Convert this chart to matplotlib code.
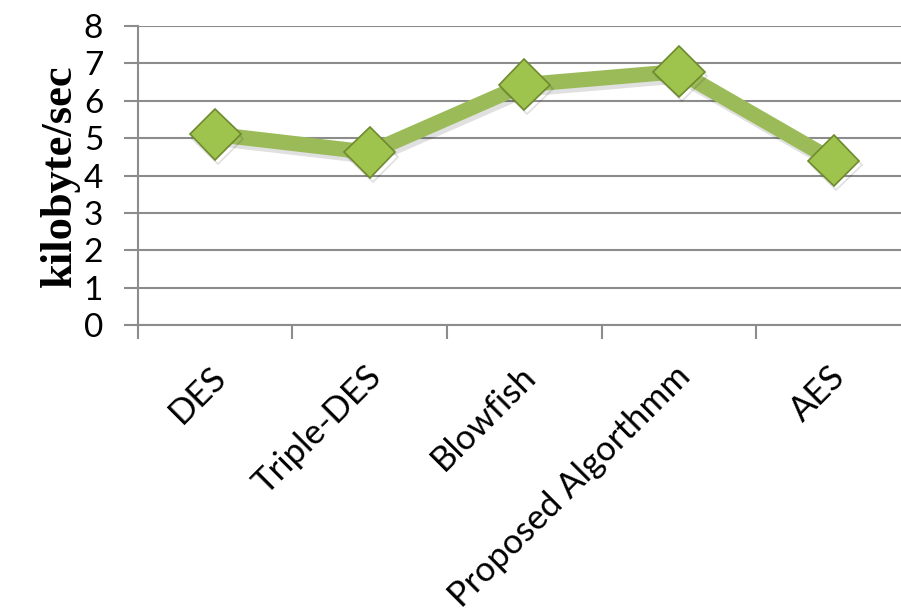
import matplotlib
matplotlib.use("Agg")
import matplotlib.pyplot as plt
import matplotlib.patheffects as pe
import matplotlib.transforms as mtransforms

# データ
algorithms = ["DES", "Triple-DES", "Blowfish", "Proposed Algorthmm", "AES"]
throughput = [5.1, 4.62, 6.43, 6.78, 4.4]  # kilobyte/sec
yticks = [0, 1, 2, 3, 4, 5, 6, 7, 8]

fig = plt.figure(figsize=(9.01, 6.16), dpi=100)
ax = fig.add_axes([0.153, 0.472, 0.858, 0.486])

x = list(range(len(algorithms)))
ax.plot(x, throughput, color="#9bbb59", linewidth=11, solid_joinstyle="miter",
        marker="D", markersize=26, markerfacecolor="#9fc44e",
        markeredgecolor="#6d8a2f", markeredgewidth=1.2, zorder=3,
        path_effects=[pe.SimpleLineShadow(offset=(2, -3), alpha=0.12), pe.Normal()])

ax.set_xlim(-0.5, len(algorithms) - 0.5)
ax.set_ylim(0, 8)
ax.set_yticks(yticks)
ax.grid(axis="y", color="#8c8c8c", linewidth=1.5)
ax.set_axisbelow(True)

for s in ["top", "right"]:
    ax.spines[s].set_visible(False)
for s in ["left", "bottom"]:
    ax.spines[s].set_color("#8c8c8c")
    ax.spines[s].set_linewidth(1.5)

# x軸: 区切りの目盛り線とラベル
ax.set_xticks([i - 0.5 for i in range(len(algorithms) + 1)], minor=True)
ax.set_xticks(x)
ax.set_xticklabels(algorithms, rotation=45, ha="right", va="top",
                   rotation_mode="anchor", fontsize=25, family="Lato")
ax.tick_params(axis="x", which="major", length=0, pad=25)
ax.tick_params(axis="x", which="minor", length=10, width=1.5, color="#8c8c8c")
ax.tick_params(axis="y", length=10, width=1.5, color="#8c8c8c", labelsize=24, pad=15)
for lbl in ax.get_yticklabels():
    lbl.set_family("Lato")
for lbl in ax.get_xticklabels():
    lbl.set_transform(lbl.get_transform() + mtransforms.ScaledTranslation(-0.05, 0, fig.dpi_scale_trans))

ax.set_ylabel("kilobyte/sec", family="Liberation Serif", fontweight="bold",
              fontsize=32, labelpad=3)

fig.savefig("out.png", dpi=100)
